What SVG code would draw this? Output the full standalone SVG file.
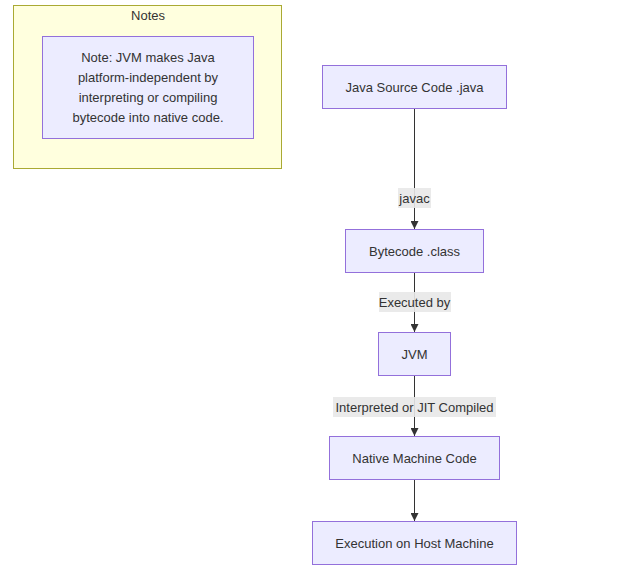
<svg xmlns="http://www.w3.org/2000/svg" width="619" height="575" viewBox="0 0 619 575">
  <defs>
    <marker id="arrow" viewBox="0 0 10 10" refX="10" refY="5" markerWidth="8" markerHeight="8" markerUnits="userSpaceOnUse" orient="auto">
      <path d="M0,0 L10,5 L0,10 z" fill="#333333"/>
    </marker>
    <style>
      text { font-family: "Liberation Sans", Arial, sans-serif; font-size: 13px; fill: #333333; text-anchor: middle; dominant-baseline: central; }
      .node rect { fill: #ECECFF; stroke: #9370DB; stroke-width: 1; }
      .cluster rect { fill: #ffffde; stroke: #aaaa33; stroke-width: 1; }
      .edge { stroke: #333333; stroke-width: 1; fill: none; marker-end: url(#arrow); }
      .label-bg { fill: #e8e8e8; opacity: 0.9; }
    </style>
  </defs>

  <!-- Notes subgraph -->
  <g id="notes" class="cluster">
    <rect x="13.5" y="5.5" width="268" height="163"/>
    <text x="148" y="15">Notes</text>
  </g>
  <g id="note" class="node">
    <rect x="42.5" y="36.5" width="211" height="102"/>
    <text x="148" y="57">Note: JVM makes Java</text>
    <text x="148" y="77">platform-independent by</text>
    <text x="148" y="97">interpreting or compiling</text>
    <text x="148" y="117">bytecode into native code.</text>
  </g>

  <!-- Connectors -->
  <g id="connectors">
    <line class="edge" x1="414.5" y1="109" x2="414.5" y2="229"/>
    <line class="edge" x1="414.5" y1="273" x2="414.5" y2="332"/>
    <line class="edge" x1="414.5" y1="376" x2="414.5" y2="436"/>
    <line class="edge" x1="414.5" y1="480" x2="414.5" y2="521"/>
    <rect class="label-bg" x="398" y="188" width="33" height="20"/>
    <text x="414.5" y="198">javac</text>
    <rect class="label-bg" x="379" y="292" width="72" height="20"/>
    <text x="414.5" y="302">Executed by</text>
    <rect class="label-bg" x="333" y="397" width="163" height="20"/>
    <text x="414.5" y="407">Interpreted or JIT Compiled</text>
  </g>

  <!-- Flow nodes -->
  <g id="source" class="node">
    <rect x="322.5" y="65.5" width="184" height="43"/>
    <text x="414.5" y="87">Java Source Code .java</text>
  </g>
  <g id="bytecode" class="node">
    <rect x="345.5" y="229.5" width="138" height="43"/>
    <text x="414.5" y="251">Bytecode .class</text>
  </g>
  <g id="jvm" class="node">
    <rect x="378.5" y="332.5" width="72" height="43"/>
    <text x="414.5" y="354">JVM</text>
  </g>
  <g id="native" class="node">
    <rect x="329.5" y="436.5" width="170" height="43"/>
    <text x="414.5" y="458">Native Machine Code</text>
  </g>
  <g id="host" class="node">
    <rect x="312.5" y="521.5" width="204" height="43"/>
    <text x="414.5" y="543">Execution on Host Machine</text>
  </g>
</svg>
